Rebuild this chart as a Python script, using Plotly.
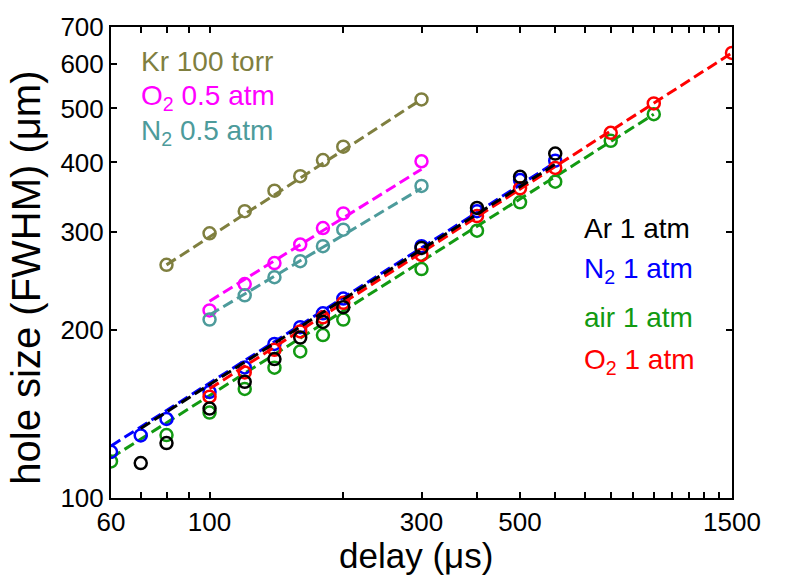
import plotly.graph_objects as go

# ---- data ----
kr_x = [80, 100, 120, 140, 160, 180, 200, 300]
kr_y = [262, 298.5, 327, 356, 378, 404, 427, 519]
kr_fit_x = [80, 300]
kr_fit_y = [262, 519]

o2h_x = [100, 120, 140, 160, 180, 200, 300]
o2h_y = [217, 242, 264, 285, 305, 324, 402]
o2h_fit_x = [100, 300]
o2h_fit_y = [225.5, 389]

n2h_x = [100, 120, 140, 160, 180, 200, 300]
n2h_y = [209, 231, 249, 266, 283, 303, 363]
n2h_fit_x = [100, 300]
n2h_fit_y = [213, 359.5]

ar_x = [70, 80, 100, 120, 140, 160, 180, 200, 300, 400, 500, 600]
ar_y = [115.5, 125.5, 144.7, 161.6, 177.5, 194, 207, 220, 281, 331.5, 377, 415]
ar_fit_x = [70, 600]
ar_fit_y = [133.3, 397]

n2_x = [60, 70, 80, 100, 120, 140, 160, 180, 200, 300, 400, 500, 600]
n2_y = [121, 129.5, 138.6, 155, 171.5, 189, 202.5, 214.5, 228, 283, 327, 372, 403]
n2_fit_x = [60, 600]
n2_fit_y = [124, 400]

air_x = [60, 80, 100, 120, 140, 160, 180, 200, 300, 400, 500, 600, 800, 1000]
air_y = [116.3, 129.7, 142.3, 156.9, 171.3, 183.2, 196, 209, 257.5, 301.7, 339.3, 369.4, 437.3, 488.3]
air_fit_x = [60, 1000]
air_fit_y = [118, 488]

o2_x = [100, 120, 140, 160, 180, 200, 300, 400, 500, 600, 800, 1000, 1500]
o2_y = [152, 168, 184.5, 199, 211, 224, 273, 320.5, 359.5, 391, 452, 510.5, 629]
o2_fit_x = [100, 1500]
o2_fit_y = [157, 629]

x_major_ticks = [60, 100, 300, 500, 1500]
x_minor_ticks = [70, 80, 90, 200, 400, 600, 700, 800, 900,
                 1000, 1100, 1200, 1300, 1400]
y_tickvals = [100, 200, 300, 400, 500, 600, 700]

labels_left = ["Kr 100 torr", "O<sub>2</sub> 0.5 atm", "N<sub>2</sub> 0.5 atm"]
labels_right = ["Ar 1 atm", "N<sub>2</sub> 1 atm", "air 1 atm", "O<sub>2</sub> 1 atm"]
x_title = "delay (\u03bcs)"
y_title = "hole size (FWHM) (\u03bcm)"

# ---- styles ----
C_KR = "#7f7f3f"
C_O2H = "#ff00ff"
C_N2H = "#4d9b9b"
C_AR = "#000000"
C_N2 = "#0000ff"
C_AIR = "#129a12"
C_O2 = "#ff0000"

FONT = "Arial, Liberation Sans, sans-serif"
fig = go.Figure()

series = [
    (kr_x, kr_y, kr_fit_x, kr_fit_y, C_KR),
    (o2h_x, o2h_y, o2h_fit_x, o2h_fit_y, C_O2H),
    (n2h_x, n2h_y, n2h_fit_x, n2h_fit_y, C_N2H),
    (air_x, air_y, air_fit_x, air_fit_y, C_AIR),
    (n2_x, n2_y, n2_fit_x, n2_fit_y, C_N2),
    (o2_x, o2_y, o2_fit_x, o2_fit_y, C_O2),
    (ar_x, ar_y, ar_fit_x, ar_fit_y, C_AR),
]
for xs, ys, fx, fy, col in series:
    fig.add_trace(go.Scatter(x=fx, y=fy, mode="lines",
                             line=dict(color=col, width=3, dash="11px,5px"),
                             showlegend=False, hoverinfo="skip"))
    fig.add_trace(go.Scatter(x=xs, y=ys, mode="markers",
                             marker=dict(symbol="circle-open", size=12, color=col,
                                         line=dict(color=col, width=2.5)),
                             showlegend=False))

L, R, T, B = 111, 55, 17, 80
W, H = 787, 578
pw, ph = W - L - R, H - T - B


def px(x):
    return (x - L) / pw


def py(y):
    return 1 - (y - T) / ph


ann = []
left_cols = [C_KR, C_O2H, C_N2H]
left_y = [52, 89, 125]
for t, c, yy in zip(labels_left, left_cols, left_y):
    ann.append(dict(text=t, x=px(139), y=py(yy), xref="paper", yref="paper",
                    showarrow=False, xanchor="left", yanchor="middle",
                    font=dict(family=FONT, size=28, color=c)))
right_cols = [C_AR, C_N2, C_AIR, C_O2]
right_y = [223, 266, 314, 359]
for t, c, yy in zip(labels_right, right_cols, right_y):
    ann.append(dict(text=t, x=px(582), y=py(yy), xref="paper", yref="paper",
                    showarrow=False, xanchor="left", yanchor="middle",
                    font=dict(family=FONT, size=28, color=c)))

ann.append(dict(text=y_title, x=px(26), y=py(273), xref="paper", yref="paper",
                showarrow=False, xanchor="center", yanchor="middle", textangle=-90,
                font=dict(family=FONT, size=40, color="black")))
ann.append(dict(text=x_title, x=px(416), y=py(557), xref="paper", yref="paper",
                showarrow=False, xanchor="center", yanchor="middle",
                font=dict(family=FONT, size=35, color="black")))

fig.update_layout(
    width=W, height=H,
    margin=dict(l=L, r=R, t=T, b=B, pad=0),
    paper_bgcolor="white", plot_bgcolor="white",
    font=dict(family=FONT, size=26, color="black"),
    annotations=ann,
    showlegend=False,
)
fig.update_xaxes(
    type="log", range=[1.7781513, 3.1760913],
    tickvals=x_major_ticks, ticktext=[str(v) for v in x_major_ticks],
    ticks="inside", ticklen=6, tickwidth=1.5, tickcolor="black",
    minor=dict(tickvals=x_minor_ticks, ticks="inside", ticklen=6,
               tickwidth=1.5, tickcolor="black", showgrid=False),
    showline=True, linecolor="black", linewidth=2, mirror="allticks",
    showgrid=False, zeroline=False,
    tickfont=dict(family=FONT, size=26),
)
fig.update_yaxes(
    type="log", range=[2, 2.845098],
    tickvals=y_tickvals, ticktext=[str(v) for v in y_tickvals],
    ticks="inside", ticklen=6, tickwidth=1.5, tickcolor="black",
    showline=True, linecolor="black", linewidth=2, mirror="allticks",
    showgrid=False, zeroline=False,
    tickfont=dict(family=FONT, size=26),
)

fig.write_html("out.html")
